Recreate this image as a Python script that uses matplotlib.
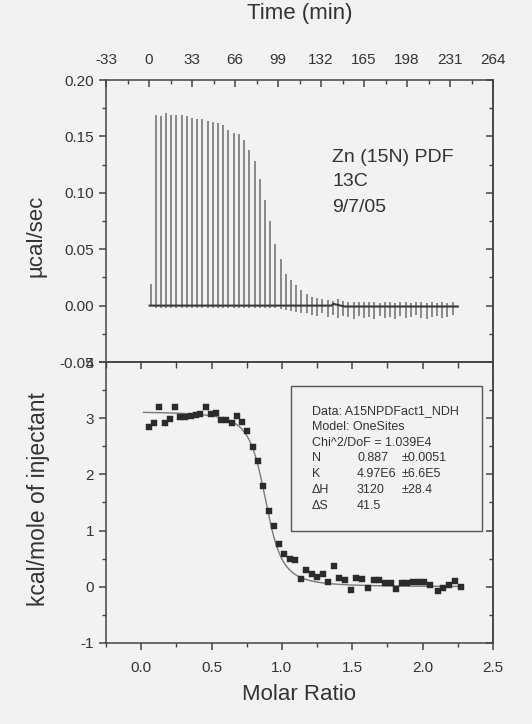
import numpy as np
import matplotlib
matplotlib.use('Agg')
import matplotlib.pyplot as plt
from matplotlib.ticker import MultipleLocator, FixedLocator, FormatStrFormatter
from matplotlib.patches import Rectangle

plt.rcParams['font.family'] = ['Liberation Sans', 'DejaVu Sans']
plt.rcParams['axes.unicode_minus'] = False

# ---------------- raw thermogram (top panel) ----------------
pre_time = [1.3]
pre_height = [0.019]
inj_time = [5, 9, 13, 17, 21, 25, 29, 33, 37, 41, 45, 49, 53, 57, 61, 65, 69, 73,
            77, 81, 85, 89, 93, 97, 101, 105, 109, 113, 117, 121, 125, 129, 133,
            137, 141, 145, 149, 153, 157, 161, 165, 169, 173, 177, 181, 185, 189,
            193, 197, 201, 205, 209, 213, 217, 221, 225, 229, 233]
peak_height = [0.169, 0.168, 0.171, 0.169, 0.169, 0.169, 0.168, 0.166, 0.165,
               0.165, 0.164, 0.163, 0.162, 0.160, 0.156, 0.153, 0.152, 0.147,
               0.138, 0.128, 0.112, 0.094, 0.075, 0.055, 0.041, 0.028, 0.023,
               0.018, 0.014, 0.010,
               0.008, 0.0065, 0.0056, 0.005, 0.0045, 0.006, 0.004, 0.0035, 0.003,
               0.003, 0.0035, 0.003, 0.003, 0.0025, 0.003, 0.003, 0.0025, 0.003,
               0.003, 0.0025, 0.003, 0.003, 0.0025, 0.003, 0.0025, 0.003, 0.0025,
               0.003]
dip_depth = [-0.002] * 24 + [-0.003, -0.004, -0.005, -0.006, -0.007, -0.007] + \
            [-0.008, -0.009, -0.007, -0.010, -0.008, -0.011, -0.009, -0.010,
             -0.012, -0.009, -0.011, -0.010, -0.012, -0.009, -0.011, -0.010,
             -0.012, -0.009, -0.011, -0.010, -0.008, -0.011, -0.012, -0.010,
             -0.009, -0.011, -0.010, -0.008]
base_time = [0.5, 140, 141.5, 150, 237]
base_value = [0.0, 0.0, 0.0015, -0.0008, -0.0008]

# ---------------- integrated heats (bottom panel) ----------------
molar_ratio = [0.054, 0.094, 0.129, 0.167, 0.202, 0.240, 0.278, 0.313, 0.351,
               0.386, 0.421, 0.459, 0.496, 0.532, 0.569, 0.605, 0.642, 0.680,
               0.718, 0.755, 0.793, 0.831, 0.868, 0.906, 0.941, 0.979, 1.017,
               1.054, 1.094, 1.134, 1.174, 1.212, 1.252, 1.290, 1.330, 1.370,
               1.407, 1.448, 1.490, 1.530, 1.570, 1.610, 1.652, 1.692, 1.732,
               1.772, 1.812, 1.852, 1.892, 1.932, 1.972, 2.012, 2.052, 2.107,
               2.147, 2.189, 2.231, 2.276]
heat = [2.84, 2.91, 3.20, 2.91, 2.98, 3.20, 3.03, 3.03, 3.04, 3.06, 3.07, 3.20,
        3.08, 3.10, 2.96, 2.96, 2.92, 3.04, 2.93, 2.77, 2.48, 2.23, 1.80, 1.34,
        1.08, 0.76, 0.59, 0.49, 0.47, 0.14, 0.30, 0.22, 0.18, 0.22, 0.08, 0.37,
        0.16, 0.12, -0.05, 0.15, 0.14, -0.02, 0.12, 0.12, 0.06, 0.06, -0.04,
        0.06, 0.06, 0.08, 0.08, 0.09, 0.04, -0.08, -0.02, 0.04, 0.10, -0.01]

# fit parameters (from the results box)
fit_N = 0.887
fit_K = 4.97e6
fit_dH = 3120.0      # cal/mol
cell_conc = 4.5e-5   # M (assumed cell concentration)

header_lines = ["Data: A15NPDFact1_NDH", "Model: OneSites", "Chi^2/DoF = 1.039E4"]
param_names = ["N", "K", "\u0394H", "\u0394S"]
param_values = ["0.887", "4.97E6", "3120", "41.5"]
param_errors = ["\u00b10.0051", "\u00b16.6E5", "\u00b128.4", ""]

sample_lines = ["Zn (15N) PDF", "13C", "9/7/05"]

time_ticks = [-33, 0, 33, 66, 99, 132, 165, 198, 231, 264]

# ---------------- figure ----------------
bg = '#f2f2f5'
ink = '#333333'
W, H = 532, 724
fig = plt.figure(figsize=(W / 100, H / 100), dpi=100, facecolor=bg)

L = 106 / W
Wd = 387 / W
ax1 = fig.add_axes([L, 1 - 362 / H, Wd, 282 / H], facecolor=bg)
ax2 = fig.add_axes([L, 1 - 643 / H, Wd, 281 / H], facecolor=bg)

for ax in (ax1, ax2):
    for s in ax.spines.values():
        s.set_color('#444444')
        s.set_linewidth(1.1)

# --- top panel
ax1.vlines(pre_time + inj_time, [0.0] + dip_depth, pre_height + peak_height,
           color='#808080', lw=1.3)
ax1.plot(base_time, base_value, color='#3a3a3a', lw=1.5)
ax1.set_xlim(-33, 264)
ax1.set_ylim(-0.05, 0.20)
ax1.xaxis.set_major_locator(FixedLocator(time_ticks))
ax1.xaxis.set_minor_locator(MultipleLocator(16.5))
ax1.yaxis.set_major_locator(MultipleLocator(0.05))
ax1.yaxis.set_minor_locator(MultipleLocator(0.025))
ax1.yaxis.set_major_formatter(FormatStrFormatter('%.2f'))
ax1.tick_params(axis='x', which='both', direction='in', top=True, bottom=False,
                labeltop=True, labelbottom=False, colors='#444444',
                labelcolor=ink, labelsize=11, pad=9)
ax1.tick_params(axis='x', which='major', length=5, width=1.1)
ax1.tick_params(axis='x', which='minor', length=3, width=1.0)
ax1.tick_params(axis='y', which='both', direction='out', left=True, right=False,
                colors='#444444', labelcolor=ink, labelsize=11, pad=3.5)
ax1.tick_params(axis='y', which='major', length=5, width=1.1)
ax1.tick_params(axis='y', which='minor', length=3, width=1.0)
ax1.xaxis.set_label_position('top')
ax1.set_xlabel('Time (min)', fontsize=16, color=ink)
ax1.xaxis.set_label_coords(0.5, (362 - 13) / 282)
ax1.xaxis.label.set_va('center')
ax1.set_ylabel('\u00b5cal/sec', fontsize=16, color=ink)
ax1.yaxis.set_label_coords((36 - 106) / 387, (362 - 236) / 282)
ax1.yaxis.label.set_va('center')

r1 = ax1.secondary_yaxis('right')
r1.yaxis.set_major_locator(MultipleLocator(0.05))
r1.yaxis.set_minor_locator(MultipleLocator(0.025))
r1.tick_params(which='both', direction='in', labelright=False, colors='#444444')
r1.tick_params(which='major', length=5, width=1.1)
r1.tick_params(which='minor', length=3, width=1.0)
r1.spines['right'].set_color('#444444')
r1.spines['right'].set_linewidth(1.1)

for i, line in enumerate(sample_lines):
    ax1.text(0.584, (362 - (157 + 25 * i)) / 282, line, transform=ax1.transAxes,
             fontsize=14, color=ink, ha='left', va='center')

# --- bottom panel
Xt = np.linspace(0.016, 2.28, 400)
Xr = Xt / fit_N
r = 1.0 / (fit_N * fit_K * cell_conc)
fit_curve = fit_dH / 1000.0 * (0.5 + (1 - Xr - r) /
                               (2 * np.sqrt((1 + Xr + r) ** 2 - 4 * Xr)))
ax2.plot(Xt, fit_curve, color='#7a7a7a', lw=1.0, zorder=2)
ax2.plot(molar_ratio, heat, 's', ms=4.3, color='#2b2b2b', mec='#2b2b2b',
         mew=0.3, zorder=3)
ax2.set_xlim(-0.25, 2.5)
ax2.set_ylim(-1, 4)
ax2.xaxis.set_major_locator(MultipleLocator(0.5))
ax2.xaxis.set_minor_locator(MultipleLocator(0.25))
ax2.xaxis.set_major_formatter(FormatStrFormatter('%.1f'))
ax2.yaxis.set_major_locator(MultipleLocator(1))
ax2.yaxis.set_minor_locator(MultipleLocator(0.5))
ax2.tick_params(axis='x', which='both', direction='out', top=False, bottom=True,
                colors='#444444', labelcolor=ink, labelsize=11, pad=8)
ax2.tick_params(axis='x', which='major', length=5, width=1.1)
ax2.tick_params(axis='x', which='minor', length=3, width=1.0)
ax2.tick_params(axis='y', which='both', direction='out', left=True, right=False,
                colors='#444444', labelcolor=ink, labelsize=11, pad=3.5)
ax2.tick_params(axis='y', which='major', length=5, width=1.1)
ax2.tick_params(axis='y', which='minor', length=3, width=1.0)
ax2.set_xlabel('Molar Ratio', fontsize=16, color=ink)
ax2.xaxis.set_label_coords(0.5, (643 - 695) / 281)
ax2.xaxis.label.set_va('center')
ax2.set_ylabel('kcal/mole of injectant', fontsize=16.5, color=ink)
ax2.yaxis.set_label_coords((39 - 106) / 387, (643 - 499) / 281)
ax2.yaxis.label.set_va('center')

t2 = ax2.secondary_xaxis('top')
t2.xaxis.set_major_locator(MultipleLocator(0.5))
t2.xaxis.set_minor_locator(MultipleLocator(0.25))
t2.tick_params(which='both', direction='in', labeltop=False, colors='#444444')
t2.tick_params(which='major', length=5, width=1.1)
t2.tick_params(which='minor', length=4, width=1.0)
t2.spines['top'].set_color('#444444')
t2.spines['top'].set_linewidth(1.1)

r2 = ax2.secondary_yaxis('right')
r2.yaxis.set_major_locator(MultipleLocator(1))
r2.yaxis.set_minor_locator(MultipleLocator(0.5))
r2.tick_params(which='both', direction='in', labelright=False, colors='#444444')
r2.tick_params(which='major', length=5, width=1.1)
r2.tick_params(which='minor', length=3, width=1.0)
r2.spines['right'].set_color('#444444')
r2.spines['right'].set_linewidth(1.1)

# results box
bx0, bx1 = (291 - 106) / 387, (482 - 106) / 387
by0, by1 = (643 - 531) / 281, (643 - 386) / 281
ax2.add_patch(Rectangle((bx0, by0), bx1 - bx0, by1 - by0, transform=ax2.transAxes,
                        fill=False, edgecolor='#555555', lw=1.0, zorder=4))
line_y = [410.7, 427.3, 442.7, 458.3, 474.0, 490.0, 505.7]
c1, c2, c3 = (312 - 106) / 387, (357 - 106) / 387, (402 - 106) / 387
for i, s in enumerate(header_lines):
    ax2.text(c1, (643 - line_y[i]) / 281, s, transform=ax2.transAxes,
             fontsize=9, color=ink, ha='left', va='center')
for j, (nm, vl, er) in enumerate(zip(param_names, param_values, param_errors)):
    yy = (643 - line_y[3 + j]) / 281
    ax2.text(c1, yy, nm, transform=ax2.transAxes, fontsize=9, color=ink,
             ha='left', va='center')
    ax2.text(c2, yy, vl, transform=ax2.transAxes, fontsize=9, color=ink,
             ha='left', va='center')
    if er:
        ax2.text(c3, yy, er, transform=ax2.transAxes, fontsize=9, color=ink,
                 ha='left', va='center')

fig.savefig('out.png', dpi=100, facecolor=bg)
